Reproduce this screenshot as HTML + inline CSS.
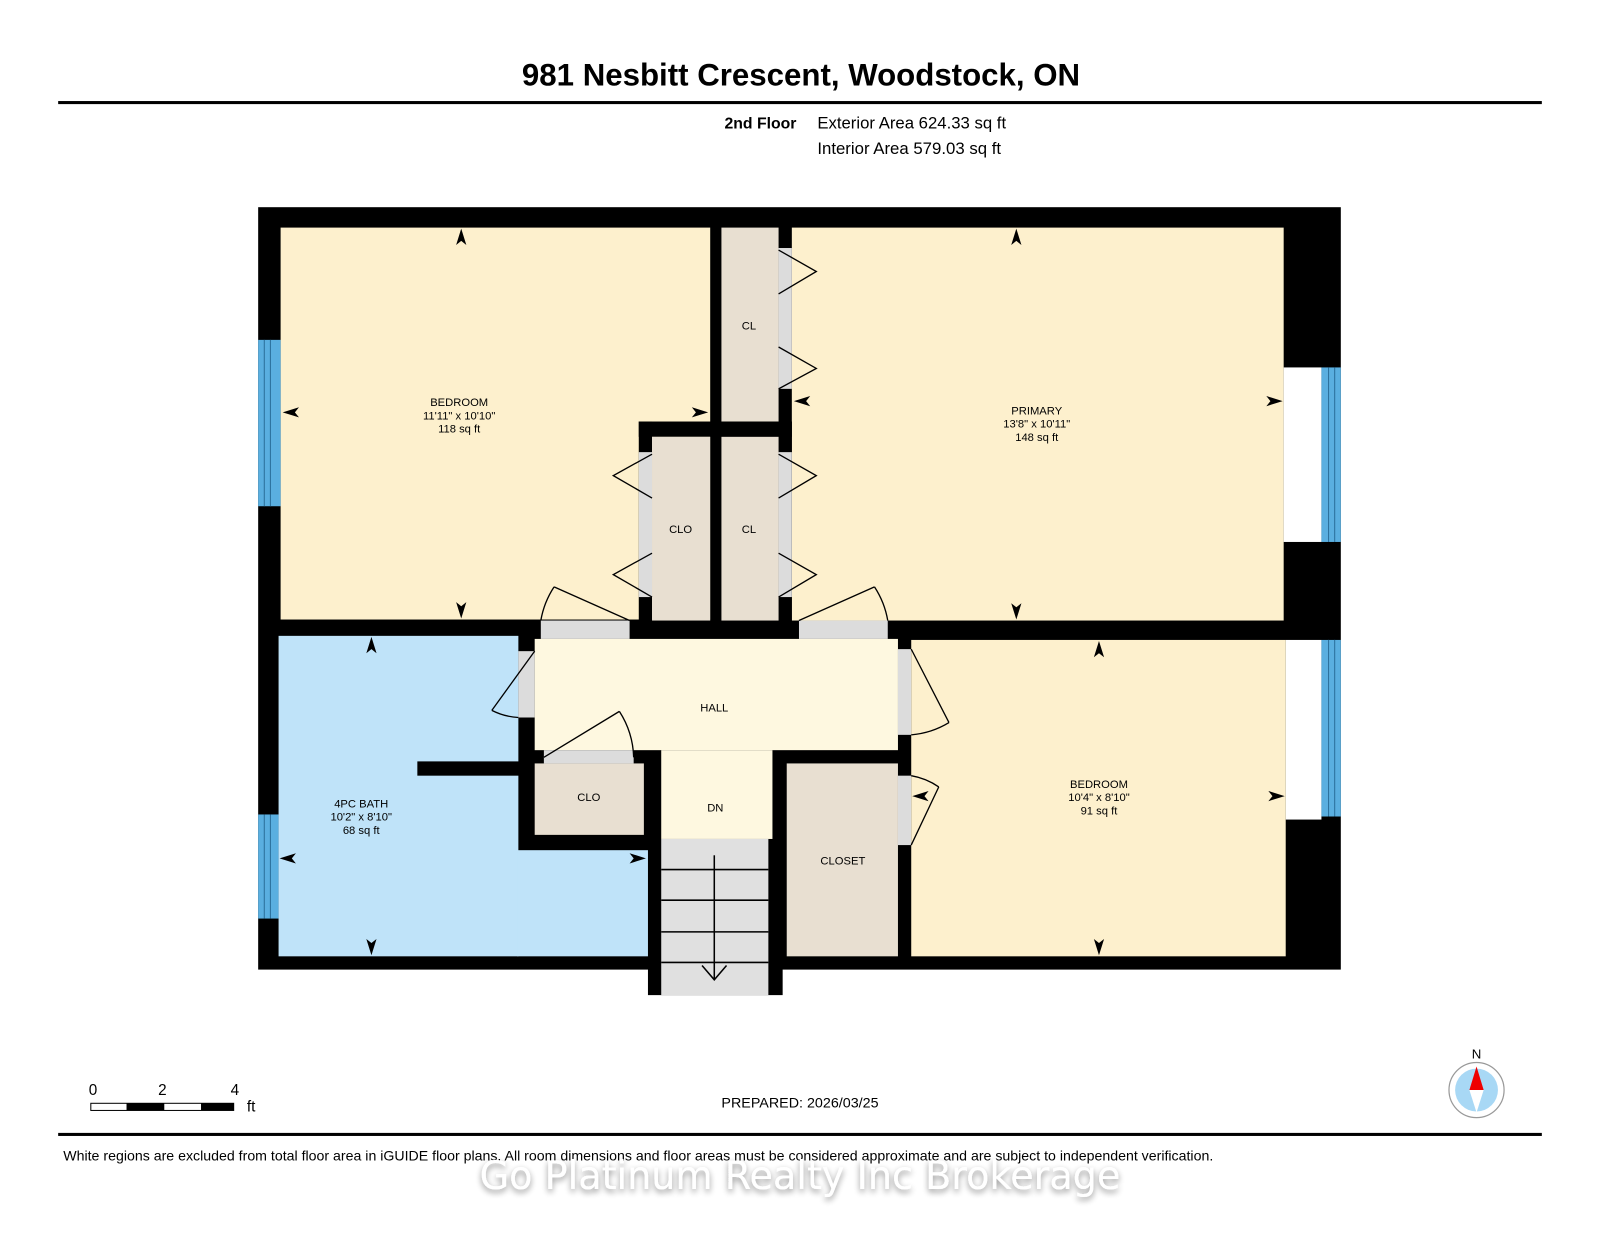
<!DOCTYPE html>
<html><head><meta charset="utf-8"><style>
html,body{margin:0;padding:0;background:#fff;}
svg{display:block;}
text{font-family:"Liberation Sans",Arial,sans-serif;}
</style></head><body>
<svg width="1600" height="1237" viewBox="0 0 1568 1212" preserveAspectRatio="none" xmlns="http://www.w3.org/2000/svg">
<defs><filter id="sh" x="-10%" y="-40%" width="120%" height="180%"><feGaussianBlur in="SourceAlpha" stdDeviation="3"/><feOffset dy="3"/><feComponentTransfer><feFuncA type="linear" slope="0.45"/></feComponentTransfer><feMerge><feMergeNode/><feMergeNode in="SourceGraphic"/></feMerge></filter></defs>
<rect width="1568" height="1212" fill="#fff"/>
<text x="785" y="84" font-size="30.5" font-weight="bold" text-anchor="middle" textLength="547" lengthAdjust="spacingAndGlyphs">981 Nesbitt Crescent, Woodstock, ON</text>
<rect x="57" y="99" width="1454" height="3" fill="#000"/>
<text x="710" y="126" font-size="15.5" font-weight="bold">2nd Floor</text>
<text x="801" y="126" font-size="16" textLength="185" lengthAdjust="spacingAndGlyphs">Exterior Area 624.33 sq ft</text>
<text x="801" y="151" font-size="16" textLength="180" lengthAdjust="spacingAndGlyphs">Interior Area 579.03 sq ft</text>

<rect x="253" y="203" width="1061" height="747" fill="#000"/>
<rect x="635" y="940" width="132" height="35" fill="#000"/>
<rect x="275" y="223" width="421" height="384" fill="#fdf0cd"/>
<rect x="776" y="223" width="482" height="385" fill="#fdf0cd"/>
<rect x="707" y="223" width="56" height="190" fill="#e8dfd1"/>
<rect x="763" y="243" width="13" height="138" fill="#dcdcdc"/>
<rect x="626" y="413" width="150" height="15" fill="#000"/>
<rect x="626" y="413" width="13" height="195" fill="#000"/>
<rect x="696" y="413" width="11" height="195" fill="#000"/>
<rect x="763" y="413" width="13" height="195" fill="#000"/>
<rect x="639" y="428" width="57" height="180" fill="#e8dfd1"/>
<rect x="707" y="428" width="56" height="180" fill="#e8dfd1"/>
<rect x="626" y="443" width="13" height="142" fill="#dcdcdc"/>
<rect x="763" y="443" width="13" height="142" fill="#dcdcdc"/>
<rect x="530" y="608" width="87" height="18" fill="#dcdcdc"/>
<rect x="783" y="608" width="87" height="18" fill="#dcdcdc"/>
<rect x="1258" y="360" width="37" height="171" fill="#fff"/>
<rect x="1295" y="360" width="19" height="171" fill="#5aafe0"/>
<rect x="1260" y="627" width="35" height="176" fill="#fff"/>
<rect x="1295" y="627" width="19" height="173" fill="#5aafe0"/>
<rect x="253" y="333" width="22" height="163" fill="#5aafe0"/>
<rect x="253" y="798" width="20" height="102" fill="#5aafe0"/>
<g stroke="#2a6f9a" stroke-width="1"><line x1="259" y1="333" x2="259" y2="496"/><line x1="265" y1="333" x2="265" y2="496"/><line x1="259" y1="798" x2="259" y2="900"/><line x1="265" y1="798" x2="265" y2="900"/><line x1="1302" y1="360" x2="1302" y2="531"/><line x1="1308" y1="360" x2="1308" y2="531"/><line x1="1302" y1="627" x2="1302" y2="800"/><line x1="1308" y1="627" x2="1308" y2="800"/></g>
<rect x="273" y="623" width="235" height="314" fill="#bfe3f9"/>
<rect x="507" y="833" width="128" height="104" fill="#bfe3f9"/>
<rect x="409" y="746" width="102" height="14" fill="#000"/>
<rect x="508" y="638" width="16" height="65" fill="#dcdcdc"/>
<rect x="524" y="626" width="356" height="109" fill="#fef8e0"/>
<rect x="648" y="735" width="109" height="87" fill="#fef8e0"/>
<rect x="880" y="636" width="13" height="84" fill="#dcdcdc"/>
<rect x="524" y="748" width="107" height="70" fill="#e8dfd1"/>
<rect x="533" y="735" width="88" height="13" fill="#dcdcdc"/>
<rect x="648" y="822" width="105" height="153" fill="#e0e0e0"/>
<g stroke="#000" stroke-width="1.5"><line x1="648" y1="852" x2="753" y2="852"/><line x1="648" y1="882" x2="753" y2="882"/><line x1="648" y1="913" x2="753" y2="913"/><line x1="648" y1="943" x2="753" y2="943"/><line x1="700" y1="838" x2="700" y2="960"/><polyline points="688,946 700,960 712,946" fill="none"/></g>
<rect x="771" y="748" width="109" height="189" fill="#e8dfd1"/>
<rect x="880" y="760" width="13" height="68" fill="#dcdcdc"/>
<rect x="893" y="627" width="367" height="310" fill="#fdf0cd"/>

<g fill="none" stroke="#000" stroke-width="1.3">
<polyline points="763,245 800,266 763,288"/><polyline points="763,340 800,361 763,381"/>
<polyline points="763,445 800,466 763,488"/><polyline points="763,542 800,563 763,585"/>
<polyline points="639,445 601,466 639,488"/><polyline points="639,542 601,563 639,585"/>
<line x1="617" y1="608" x2="543" y2="575"/><path d="M543,575 A87,87 0 0 0 530,608"/>
<line x1="783" y1="608" x2="857" y2="575"/><path d="M857,575 A87,87 0 0 1 870,608"/>
<line x1="524" y1="638" x2="482" y2="696"/><path d="M482,696 A65,65 0 0 0 508,703"/>
<line x1="533" y1="742" x2="607" y2="697"/><path d="M607,697 A88,88 0 0 1 621,742"/>
<line x1="893" y1="636" x2="930" y2="708"/><path d="M930,708 A84,84 0 0 1 893,720"/>
<line x1="893" y1="828" x2="920" y2="771"/><path d="M920,771 A68,68 0 0 0 893,760"/>
</g>
<g fill="#000">
<polygon points="452,224 447,240 452,236 457,240"/><polygon points="452,606 447,590 452,594 457,590"/>
<polygon points="277,404 293,399 289,404 293,409"/><polygon points="694,404 678,399 682,404 678,409"/>
<polygon points="996,224 991,240 996,236 1001,240"/><polygon points="996,607 991,591 996,595 1001,591"/>
<polygon points="778,393 794,388 790,393 794,398"/><polygon points="1257,393 1241,388 1245,393 1241,398"/>
<polygon points="364,624 359,640 364,636 369,640"/><polygon points="364,936 359,920 364,924 369,920"/>
<polygon points="274,841 290,836 286,841 290,846"/><polygon points="633,841 617,836 621,841 617,846"/>
<polygon points="1077,628 1072,644 1077,640 1082,644"/><polygon points="1077,936 1072,920 1077,924 1082,920"/>
<polygon points="1259,780 1243,775 1247,780 1243,785"/><polygon points="894,780 910,775 906,780 910,785"/>
</g>
<g font-size="11" text-anchor="middle">
<text x="450" y="398">BEDROOM</text><text x="450" y="411">11'11" x 10'10"</text><text x="450" y="424">118 sq ft</text>
<text x="1016" y="406">PRIMARY</text><text x="1016" y="419">13'8" x 10'11"</text><text x="1016" y="432">148 sq ft</text>
<text x="734" y="323">CL</text><text x="667" y="522">CLO</text><text x="734" y="522">CL</text>
<text x="700" y="697">HALL</text><text x="701" y="795">DN</text><text x="577" y="785">CLO</text><text x="826" y="847">CLOSET</text>
<text x="354" y="791">4PC BATH</text><text x="354" y="804">10'2" x 8'10"</text><text x="354" y="817">68 sq ft</text>
<text x="1077" y="772">BEDROOM</text><text x="1077" y="785">10'4" x 8'10"</text><text x="1077" y="798">91 sq ft</text>
</g>

<g font-size="15"><text x="87" y="1073">0</text><text x="155" y="1073">2</text><text x="226" y="1073">4</text><text x="242" y="1089">ft</text></g>
<rect x="89" y="1081" width="140" height="7" fill="#fff" stroke="#000" stroke-width="1"/>
<rect x="124" y="1081" width="37" height="7" fill="#000"/><rect x="197" y="1081" width="32" height="7" fill="#000"/>
<text x="784" y="1085" font-size="13.5" text-anchor="middle" textLength="154" lengthAdjust="spacingAndGlyphs">PREPARED: 2026/03/25</text>
<text x="1447" y="1037" font-size="13" text-anchor="middle">N</text>
<circle cx="1447" cy="1068" r="27" fill="#fff" stroke="#999" stroke-width="1.2"/>
<circle cx="1447" cy="1068" r="21" fill="#a8d8f5"/>
<polygon points="1447,1045 1440,1068 1454,1068" fill="#e00"/>
<polygon points="1440,1068 1454,1068 1447,1090" fill="#fff"/>
<rect x="57" y="1110" width="1454" height="3" fill="#000"/>
<text x="62" y="1137" font-size="13.5" textLength="1127" lengthAdjust="spacingAndGlyphs">White regions are excluded from total floor area in iGUIDE floor plans. All room dimensions and floor areas must be considered approximate and are subject to independent verification.</text>
<text x="784" y="1165" font-size="38" text-anchor="middle" fill="#fff" filter="url(#sh)" textLength="628" lengthAdjust="spacingAndGlyphs" style="font-family:'DejaVu Sans',sans-serif">Go Platinum Realty Inc Brokerage</text>
</svg>
</body></html>
